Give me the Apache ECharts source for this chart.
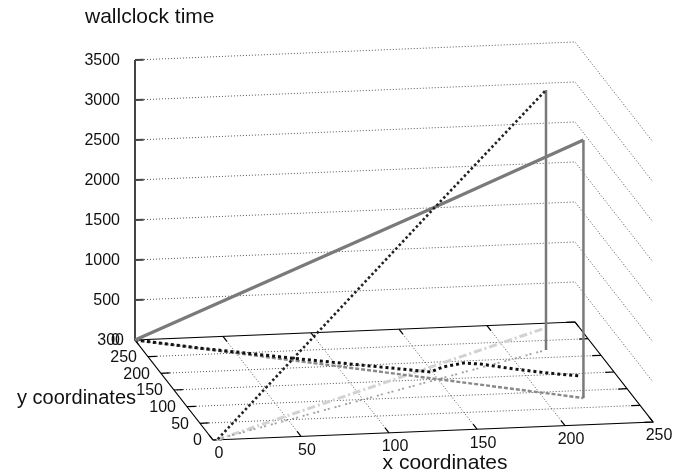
<!DOCTYPE html>
<html lang="en">
<head>
  <meta charset="UTF-8">
  <title>wallclock time</title>
  <script src="https://cdn.jsdelivr.net/npm/echarts@6/dist/echarts.min.js"></script>
  <style>
    html, body { margin: 0; padding: 0; background: #fff; }
    #chart { width: 695px; height: 475px; }
  </style>
</head>
<body>
  <div id="chart"></div>
<script>
  // axis ticks
  var xTicks = [0, 50, 100, 150, 200, 250];
  var yTicks = [0, 50, 100, 150, 200, 250, 300];
  var zTicks = [0, 500, 1000, 1500, 2000, 2500, 3000, 3500];

  // 3d runs: [x, y, wallclock]
  var runA = [[0, 300, 0], [148, 152, 2140], [222, 78, 3225]];
  var runB = [[3, 2, 0], [148, 148, 2160], [222, 222, 3250]];

  // paths drawn on the floor: [x, y]
  var floorC = [[0, 300], [32, 269], [83, 225], [134, 184], [149, 172], [158, 185],
                [171, 194], [180, 189], [196, 171], [213, 155], [230, 142]];
  var floorD = [[2, 0], [231, 286]];

  // box placement on screen
  var X0 = 213, Y0 = 440;
  var XV = [440 / 250, -18 / 250];
  var YV = [-78 / 300, -100 / 300];
  var ZV = 280 / 3500;
  var xMax = 250, yMax = 300, zMax = 3500;

  function proj(x, y, z) {
    return [X0 + x * XV[0] + y * YV[0], Y0 + x * XV[1] + y * YV[1] - (z || 0) * ZV];
  }

  var font = '16px "Liberation Sans", Arial, sans-serif';
  var titleFont = '21px "Liberation Sans", Arial, sans-serif';

  function frame(params, api) {
    var kids = [];
    function seg(a, b, color, w, dash) {
      var p = api.coord(a), q = api.coord(b);
      kids.push({ type: 'line', shape: { x1: p[0], y1: p[1], x2: q[0], y2: q[1] },
        style: { stroke: color, lineWidth: w, lineDash: dash || null } });
    }
    function poly(pts, color, w, dash) {
      kids.push({ type: 'polyline', shape: { points: pts.map(function (p) { return api.coord(p); }) },
        style: { stroke: color, lineWidth: w, lineDash: dash || null, fill: null } });
    }
    function text(str, p, align, f) {
      kids.push({ type: 'text', x: p[0], y: p[1],
        style: { text: str, fill: '#111', font: f || font, align: align, verticalAlign: 'middle' } });
    }
    var gridC = '#555', dot = [1, 2];

    // floor grid
    xTicks.forEach(function (x) {
      if (x > 0 && x < xMax) seg(proj(x, 0, 0), proj(x, yMax, 0), gridC, 1, dot);
    });
    yTicks.forEach(function (y) {
      if (y > 0 && y < yMax) seg(proj(0, y, 0), proj(xMax, y, 0), gridC, 1, dot);
    });
    // back and right wall grid
    zTicks.forEach(function (z) {
      if (z > 0) poly([proj(0, yMax, z), proj(xMax, yMax, z), proj(xMax, 0, z)], gridC, 1, dot);
    });

    // floor box
    poly([proj(0, 0, 0), proj(xMax, 0, 0), proj(xMax, yMax, 0), proj(0, yMax, 0), proj(0, 0, 0)], '#000', 1.2);

    // x ticks
    xTicks.forEach(function (x) {
      seg(proj(x, 0, 0), proj(x, 15, 0), '#000', 1.2);
      seg(proj(x, yMax, 0), proj(x, yMax - 15, 0), '#000', 1.2);
      var p = proj(x, 0, 0);
      text(String(x), [p[0] + 6, p[1] + 14], 'center');
    });
    // y ticks
    yTicks.forEach(function (y) {
      seg(proj(0, y, 0), proj(5, y, 0), '#000', 1.2);
      seg(proj(xMax, y, 0), proj(xMax - 5, y, 0), '#000', 1.2);
      var p = proj(0, y, 0);
      text(String(y), [p[0] - 11, p[1] + 1], 'right');
    });
    // z axis
    seg(proj(0, yMax, 0), proj(0, yMax, zMax), '#444', 2);
    zTicks.forEach(function (z) {
      seg(proj(0, yMax, z), proj(5, yMax, z), '#444', 2);
      var p = proj(0, yMax, z);
      text(String(z), [p[0] - 15, p[1] + 1], 'right');
    });

    // axis titles
    text('wallclock time', api.coord([85, 17]), 'left', titleFont);
    text('x coordinates', api.coord([445, 463]), 'center', titleFont);
    text('y coordinates', api.coord([136, 398]), 'right', '20px "Liberation Sans", Arial, sans-serif');

    return { type: 'group', children: kids };
  }

  function line3d(pts, color, width, dash, z) {
    return {
      type: 'line',
      data: pts.map(function (p) { return proj(p[0], p[1], p[2]); }),
      symbol: 'none',
      lineStyle: { color: color, width: width, type: dash, cap: 'butt' },
      silent: true,
      animation: false,
      z: z
    };
  }

  function flat(pts) {
    return pts.map(function (p) { return [p[0], p[1], 0]; });
  }
  function drop(pts) {
    var e = pts[pts.length - 1];
    return [e, [e[0], e[1], 0]];
  }

  var chart = echarts.init(document.getElementById('chart'));
  chart.setOption({
    animation: false,
    backgroundColor: '#fff',
    grid: { left: 0, right: 0, top: 0, bottom: 0 },
    xAxis: { type: 'value', min: 0, max: 695, show: false },
    yAxis: { type: 'value', min: 0, max: 475, inverse: true, show: false },
    series: [
      { type: 'custom', renderItem: frame, data: [[0, 0]], silent: true, z: 1 },
      line3d(flat(floorD), '#d2d2d2', 3, [8, 3, 2, 3], 2),
      line3d(flat(runB), '#a0a0a0', 1.8, [2, 2, 2, 5], 3),
      line3d(flat(runA), '#888888', 2.4, [4, 2], 4),
      line3d(flat(floorC), '#111111', 3, [3, 3], 5),
      line3d(drop(runB), '#7a7a7a', 2.5, 'solid', 6),
      line3d(drop(runA), '#7a7a7a', 2.5, 'solid', 6),
      line3d(runA, '#7a7a7a', 3.2, 'solid', 7),
      line3d(runB, '#222222', 2.6, [2.5, 2.5], 8)
    ]
  });
</script>
</body>
</html>
